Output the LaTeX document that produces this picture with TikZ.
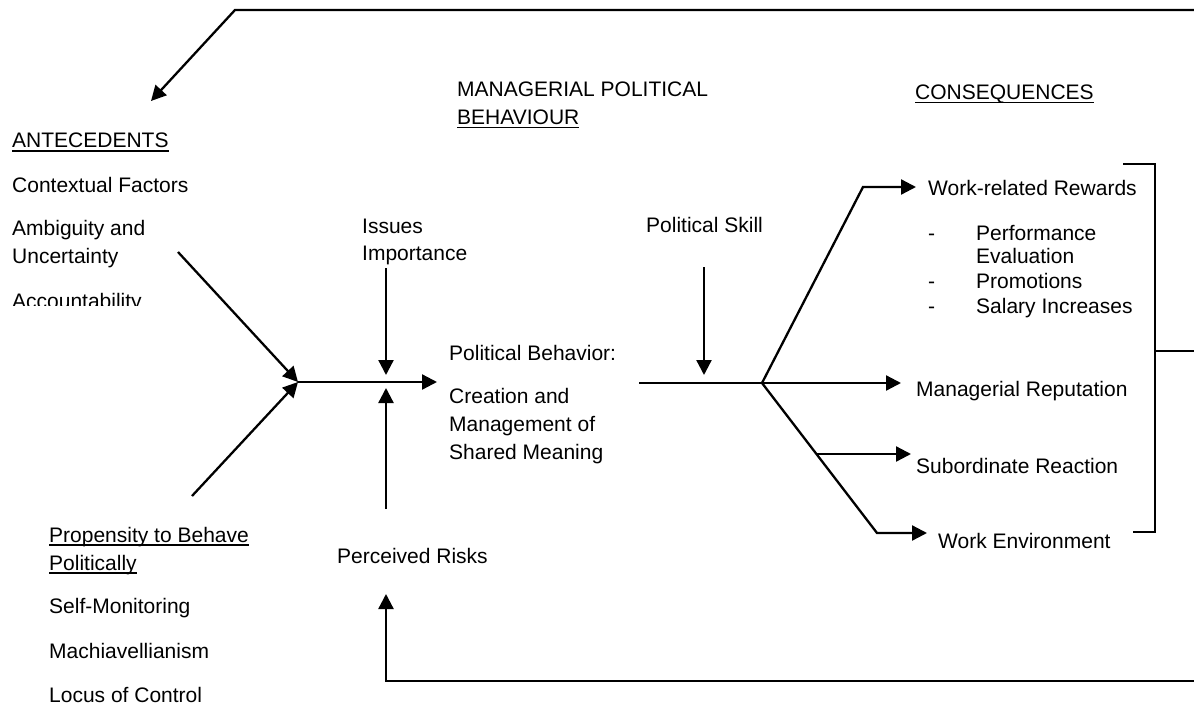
\documentclass[tikz,border=0pt]{standalone}
\usepackage{fontspec}
\setmainfont{Liberation Sans}
\usetikzlibrary{arrows.meta}
% underline at a fixed depth below the baseline
\newsavebox\ulbox
\newcommand\ulx[1]{\sbox\ulbox{#1}\rlap{\rule[-3.5pt]{\wd\ulbox}{1.5pt}}\usebox\ulbox}
% left-aligned lines stacked under the first baseline
\newcommand\stackl[1]{\vtop{\halign{##\hfil\cr#1\crcr}}}
\begin{document}
\begin{tikzpicture}[x=1pt,y=-1pt,
  lbl/.style={anchor=base west,inner sep=0pt,font=\fontsize{21}{28}\selectfont},
  wire/.style={line width=2.3pt},
  arr/.style={wire,-{Triangle[length=15pt,width=15pt]}}]
\useasboundingbox (0,0) rectangle (1194,706);

% ---- antecedents
\node[lbl] (ante) at (12,148) {\ulx{ANTECEDENTS}};
\node[lbl] (ctx) at (12,192) {Contextual Factors};
\node[lbl] (amb) at (12,235) {\stackl{Ambiguity and\cr Uncertainty}};
\begin{scope}
  \clip (0,0) rectangle (340,305);
  \node[lbl] (acc) at (12,308) {Accountability};
\end{scope}
\node[lbl] (prop) at (49,542) {\stackl{\ulx{Propensity to Behave}\cr \ulx{Politically}}};
\node[lbl] (selfm) at (49,613) {Self-Monitoring};
\node[lbl] (mach) at (49,658) {Machiavellianism};
\node[lbl] (loc) at (49,702) {Locus of Control};

% ---- political behaviour
\node[lbl] (mpb) at (457,97) {\stackl{MANAGERIAL POLITICAL\cr \ulx{BEHAVIOUR}}};
\node[lbl] (iss) at (362,233) {\stackl{Issues\cr Importance}};
\node[lbl] (skill) at (646,232) {Political Skill};
\node[lbl] (pb) at (449,360) {Political Behavior:};
\node[lbl] (cms) at (449,403) {\stackl{Creation and\cr Management of\cr Shared Meaning}};
\node[lbl] (risk) at (337,563) {Perceived Risks};

% ---- consequences
\node[lbl] (cons) at (915,100) {\ulx{CONSEQUENCES}};
\node[lbl] (wrr) at (928,195) {Work-related Rewards};
\node[lbl] (d1) at (928,240) {-};
\node[lbl] (perf) at (976,240) {Performance};
\node[lbl] (eval) at (976,263) {Evaluation};
\node[lbl] (d2) at (928,288) {-};
\node[lbl] (prom) at (976,288) {Promotions};
\node[lbl] (d3) at (928,313) {-};
\node[lbl] (sal) at (976,313) {Salary Increases};
\node[lbl] (rep) at (916,396) {Managerial Reputation};
\node[lbl] (sub) at (916,473) {Subordinate Reaction};
\node[lbl] (env) at (938,548) {Work Environment};

% ---- junction and end points
\coordinate (topR) at (1194,10);
\coordinate (topL) at (235,10);
\coordinate (topT) at (151,101);
\coordinate (ambS) at (178,252);
\coordinate (propS) at (192,496);
\coordinate (join) at (298,382);
\coordinate (pbT) at (437,382);
\coordinate (issS) at (386,268);
\coordinate (issT) at (386,375);
\coordinate (riskS) at (386,509);
\coordinate (riskT) at (386,388);
\coordinate (outS) at (639,383);
\coordinate (fork) at (762,383);
\coordinate (skillS) at (704,267);
\coordinate (skillT) at (704,375);
\coordinate (wrrC) at (863,187);
\coordinate (wrrT) at (916,187);
\coordinate (repT) at (901,383);
\coordinate (envC) at (877,533);
\coordinate (envT) at (927,533);
\coordinate (subS) at (816,454);
\coordinate (subT) at (911,454);
\coordinate (brTop) at (1123,164);
\coordinate (brTopR) at (1155,164);
\coordinate (brBotR) at (1155,532);
\coordinate (brBot) at (1133,532);
\coordinate (brMid) at (1155,351);
\coordinate (brOut) at (1194,351);
\coordinate (botR) at (1194,681);
\coordinate (botL) at (386,681);
\coordinate (botT) at (386,594);

% ---- connectors
\draw[arr] (topR) -- (topL) -- (topT);
\draw[arr] (ambS) -- (join);
\draw[arr] (propS) -- (join);
\draw[arr] (join) -- (pbT);
\draw[arr] (issS) -- (issT);
\draw[arr] (riskS) -- (riskT);
\draw[wire] (outS) -- (fork);
\draw[arr] (skillS) -- (skillT);
\draw[arr] (fork) -- (wrrC) -- (wrrT);
\draw[arr] (fork) -- (repT);
\draw[arr] (fork) -- (envC) -- (envT);
\draw[arr] (subS) -- (subT);
\draw[wire] (brTop) -- (brTopR) -- (brBotR) -- (brBot);
\draw[wire] (brMid) -- (brOut);
\draw[arr] (botR) -- (botL) -- (botT);
\end{tikzpicture}
\end{document}
